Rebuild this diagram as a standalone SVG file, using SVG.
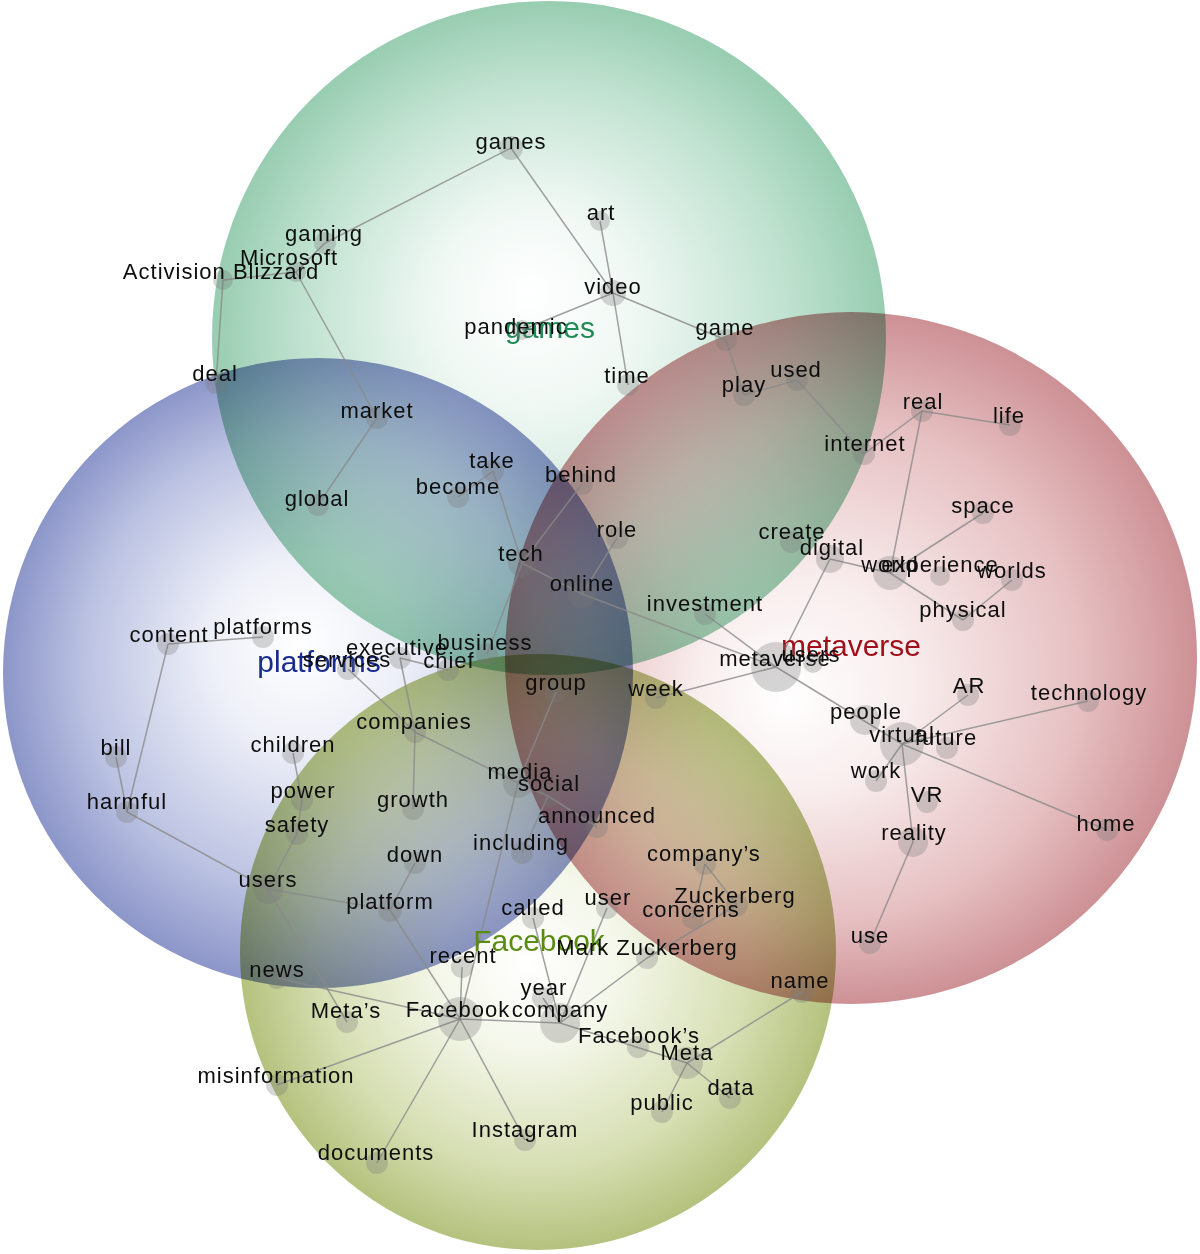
<svg xmlns="http://www.w3.org/2000/svg" width="1200" height="1254" viewBox="0 0 1200 1254">
<style>
.e{stroke:#8a8a8a;stroke-width:1.5;stroke-opacity:0.8;fill:none}
.n circle{fill:#777777;fill-opacity:0.3}
.n text{font-family:"Liberation Sans",Arial,sans-serif;font-size:22px;letter-spacing:1px;fill:#0d0d0d;text-anchor:middle}
.cat{font-family:"Liberation Sans",Arial,sans-serif;font-size:30px;text-anchor:middle}
.blob{mix-blend-mode:multiply}
</style>
<defs>
<radialGradient id="gG" cx="0.5" cy="0.5" r="0.5" fx="0.47" fy="0.43">
<stop offset="0" stop-color="#ffffff"/><stop offset="0.3" stop-color="#f0f8f4"/><stop offset="0.72" stop-color="#c0e2d0"/><stop offset="1" stop-color="#98cdb1"/>
</radialGradient>
<radialGradient id="gB" cx="0.5" cy="0.5" r="0.5" fx="0.47" fy="0.45">
<stop offset="0" stop-color="#ffffff"/><stop offset="0.3" stop-color="#eef0f8"/><stop offset="0.72" stop-color="#bcc3e2"/><stop offset="1" stop-color="#8c96c9"/>
</radialGradient>
<radialGradient id="gR" cx="0.5" cy="0.5" r="0.5" fx="0.4" fy="0.56">
<stop offset="0" stop-color="#ffffff"/><stop offset="0.3" stop-color="#f9eeee"/><stop offset="0.72" stop-color="#e6c0c2"/><stop offset="1" stop-color="#cd9195"/>
</radialGradient>
<radialGradient id="gY" cx="0.5" cy="0.5" r="0.5" fx="0.48" fy="0.52">
<stop offset="0" stop-color="#ffffff"/><stop offset="0.3" stop-color="#f4f7ea"/><stop offset="0.72" stop-color="#d6deb2"/><stop offset="1" stop-color="#b4c27e"/>
</radialGradient>
</defs>
<rect width="1200" height="1254" fill="#ffffff"/>
<g id="areas">
<circle id="area-games" class="blob" cx="549" cy="338" r="337" fill="url(#gG)"/>
<circle id="area-platforms" class="blob" cx="318" cy="673" r="315" fill="url(#gB)"/>
<circle id="area-metaverse" class="blob" cx="851" cy="658" r="346" fill="url(#gR)"/>
<circle id="area-facebook" class="blob" cx="538" cy="952" r="298" fill="url(#gY)"/>
</g>
<g id="connectors">
<line class="e" x1="511" y1="148" x2="325" y2="243"/>
<line class="e" x1="511" y1="148" x2="613" y2="293"/>
<line class="e" x1="325" y1="243" x2="296" y2="272"/>
<line class="e" x1="296" y1="272" x2="223" y2="280"/>
<line class="e" x1="223" y1="280" x2="216" y2="383"/>
<line class="e" x1="296" y1="272" x2="377" y2="418"/>
<line class="e" x1="377" y1="418" x2="318" y2="505"/>
<line class="e" x1="600" y1="221" x2="613" y2="293"/>
<line class="e" x1="613" y1="293" x2="522" y2="330"/>
<line class="e" x1="613" y1="293" x2="726" y2="340"/>
<line class="e" x1="613" y1="293" x2="628" y2="385"/>
<line class="e" x1="726" y1="340" x2="744" y2="395"/>
<line class="e" x1="744" y1="395" x2="797" y2="380"/>
<line class="e" x1="797" y1="380" x2="864" y2="454"/>
<line class="e" x1="864" y1="454" x2="922" y2="411"/>
<line class="e" x1="922" y1="411" x2="1010" y2="425"/>
<line class="e" x1="922" y1="411" x2="890" y2="573"/>
<line class="e" x1="890" y1="573" x2="983" y2="513"/>
<line class="e" x1="890" y1="573" x2="963" y2="620"/>
<line class="e" x1="963" y1="620" x2="1012" y2="580"/>
<line class="e" x1="830" y1="559" x2="890" y2="573"/>
<line class="e" x1="830" y1="559" x2="776" y2="667"/>
<line class="e" x1="493" y1="471" x2="458" y2="497"/>
<line class="e" x1="493" y1="471" x2="522" y2="563"/>
<line class="e" x1="582" y1="484" x2="522" y2="563"/>
<line class="e" x1="522" y1="563" x2="487" y2="654"/>
<line class="e" x1="522" y1="563" x2="582" y2="594"/>
<line class="e" x1="617" y1="538" x2="582" y2="594"/>
<line class="e" x1="582" y1="594" x2="776" y2="667"/>
<line class="e" x1="705" y1="614" x2="776" y2="667"/>
<line class="e" x1="656" y1="698" x2="776" y2="667"/>
<line class="e" x1="776" y1="667" x2="902" y2="744"/>
<line class="e" x1="902" y1="744" x2="968" y2="695"/>
<line class="e" x1="902" y1="744" x2="1088" y2="701"/>
<line class="e" x1="902" y1="744" x2="876" y2="781"/>
<line class="e" x1="902" y1="744" x2="913" y2="842"/>
<line class="e" x1="902" y1="744" x2="1107" y2="830"/>
<line class="e" x1="913" y1="842" x2="870" y2="943"/>
<line class="e" x1="168" y1="644" x2="263" y2="637"/>
<line class="e" x1="168" y1="644" x2="127" y2="812"/>
<line class="e" x1="116" y1="757" x2="127" y2="812"/>
<line class="e" x1="127" y1="812" x2="268" y2="889"/>
<line class="e" x1="293" y1="753" x2="302" y2="800"/>
<line class="e" x1="302" y1="800" x2="297" y2="834"/>
<line class="e" x1="297" y1="834" x2="268" y2="889"/>
<line class="e" x1="268" y1="889" x2="390" y2="910"/>
<line class="e" x1="400" y1="658" x2="448" y2="670"/>
<line class="e" x1="400" y1="658" x2="415" y2="732"/>
<line class="e" x1="348" y1="669" x2="415" y2="732"/>
<line class="e" x1="415" y1="732" x2="413" y2="809"/>
<line class="e" x1="415" y1="732" x2="518" y2="783"/>
<line class="e" x1="556" y1="692" x2="518" y2="783"/>
<line class="e" x1="518" y1="783" x2="548" y2="796"/>
<line class="e" x1="548" y1="796" x2="597" y2="827"/>
<line class="e" x1="522" y1="853" x2="548" y2="796"/>
<line class="e" x1="415" y1="863" x2="390" y2="910"/>
<line class="e" x1="390" y1="910" x2="460" y2="1019"/>
<line class="e" x1="518" y1="783" x2="460" y2="1019"/>
<line class="e" x1="268" y1="889" x2="347" y2="1022"/>
<line class="e" x1="277" y1="978" x2="460" y2="1019"/>
<line class="e" x1="462" y1="967" x2="460" y2="1019"/>
<line class="e" x1="277" y1="1085" x2="460" y2="1019"/>
<line class="e" x1="377" y1="1163" x2="460" y2="1019"/>
<line class="e" x1="525" y1="1140" x2="460" y2="1019"/>
<line class="e" x1="460" y1="1019" x2="560" y2="1023"/>
<line class="e" x1="533" y1="918" x2="560" y2="1023"/>
<line class="e" x1="607" y1="908" x2="560" y2="1023"/>
<line class="e" x1="543" y1="998" x2="560" y2="1023"/>
<line class="e" x1="647" y1="958" x2="560" y2="1023"/>
<line class="e" x1="560" y1="1023" x2="687" y2="1063"/>
<line class="e" x1="687" y1="1063" x2="802" y2="992"/>
<line class="e" x1="687" y1="1063" x2="730" y2="1098"/>
<line class="e" x1="687" y1="1063" x2="662" y2="1112"/>
<line class="e" x1="647" y1="958" x2="737" y2="905"/>
<line class="e" x1="705" y1="864" x2="693" y2="918"/>
<line class="e" x1="705" y1="864" x2="737" y2="905"/>
</g>
<g id="category-labels">
<text class="cat" x="550" y="338" fill="#1f8c55">games</text>
<text class="cat" x="319" y="672" fill="#1a2b8f">platforms</text>
<text class="cat" x="851" y="656" fill="#a0101c">metaverse</text>
<text class="cat" x="539" y="951" fill="#5a8c12">Facebook</text>
</g>
<g id="nodes">
<g id="n-games" class="n"><circle cx="511" cy="148" r="12"/><text x="511" y="149">games</text></g>
<g id="n-art" class="n"><circle cx="600" cy="221" r="10"/><text x="601" y="220">art</text></g>
<g id="n-gaming" class="n"><circle cx="325" cy="243" r="11"/><text x="324" y="241">gaming</text></g>
<g id="n-microsoft" class="n"><circle cx="296" cy="272" r="10"/><text x="289" y="265">Microsoft</text></g>
<g id="n-activision" class="n"><circle cx="223" cy="280" r="10"/><text x="221" y="279">Activision Blizzard</text></g>
<g id="n-deal" class="n"><circle cx="216" cy="383" r="11"/><text x="215" y="381">deal</text></g>
<g id="n-market" class="n"><circle cx="377" cy="418" r="11"/><text x="377" y="418">market</text></g>
<g id="n-global" class="n"><circle cx="318" cy="505" r="11"/><text x="317" y="506">global</text></g>
<g id="n-video" class="n"><circle cx="613" cy="293" r="13"/><text x="613" y="294">video</text></g>
<g id="n-pandemic" class="n"><circle cx="522" cy="330" r="10"/><text x="516" y="334">pandemic</text></g>
<g id="n-game" class="n"><circle cx="726" cy="340" r="11"/><text x="725" y="335">game</text></g>
<g id="n-time" class="n"><circle cx="628" cy="385" r="11"/><text x="627" y="383">time</text></g>
<g id="n-play" class="n"><circle cx="744" cy="395" r="11"/><text x="744" y="392">play</text></g>
<g id="n-used" class="n"><circle cx="797" cy="380" r="11"/><text x="796" y="377">used</text></g>
<g id="n-internet" class="n"><circle cx="864" cy="454" r="11"/><text x="865" y="451">internet</text></g>
<g id="n-real" class="n"><circle cx="922" cy="411" r="11"/><text x="923" y="409">real</text></g>
<g id="n-life" class="n"><circle cx="1010" cy="425" r="11"/><text x="1009" y="423">life</text></g>
<g id="n-space" class="n"><circle cx="983" cy="513" r="11"/><text x="983" y="513">space</text></g>
<g id="n-create" class="n"><circle cx="791" cy="542" r="11"/><text x="792" y="539">create</text></g>
<g id="n-digital" class="n"><circle cx="830" cy="559" r="14"/><text x="832" y="555">digital</text></g>
<g id="n-world" class="n"><circle cx="890" cy="573" r="17"/><text x="890" y="572">world</text></g>
<g id="n-experience" class="n"><circle cx="940" cy="576" r="10"/><text x="940" y="572">experience</text></g>
<g id="n-worlds" class="n"><circle cx="1012" cy="580" r="11"/><text x="1012" y="578">worlds</text></g>
<g id="n-physical" class="n"><circle cx="963" cy="620" r="11"/><text x="963" y="617">physical</text></g>
<g id="n-investment" class="n"><circle cx="705" cy="614" r="11"/><text x="705" y="611">investment</text></g>
<g id="n-metaverse" class="n"><circle cx="776" cy="667" r="25"/><text x="775" y="666">metaverse</text></g>
<g id="n-users-m" class="n"><circle cx="813" cy="663" r="10"/><text x="811" y="662">users</text></g>
<g id="n-week" class="n"><circle cx="656" cy="698" r="11"/><text x="656" y="696">week</text></g>
<g id="n-role" class="n"><circle cx="617" cy="538" r="11"/><text x="617" y="537">role</text></g>
<g id="n-behind" class="n"><circle cx="582" cy="484" r="11"/><text x="581" y="482">behind</text></g>
<g id="n-take" class="n"><circle cx="493" cy="471" r="11"/><text x="492" y="468">take</text></g>
<g id="n-become" class="n"><circle cx="458" cy="497" r="11"/><text x="458" y="494">become</text></g>
<g id="n-tech" class="n"><circle cx="522" cy="563" r="14"/><text x="521" y="561">tech</text></g>
<g id="n-online" class="n"><circle cx="582" cy="594" r="14"/><text x="582" y="591">online</text></g>
<g id="n-ar" class="n"><circle cx="968" cy="695" r="11"/><text x="969" y="693">AR</text></g>
<g id="n-technology" class="n"><circle cx="1088" cy="701" r="11"/><text x="1089" y="700">technology</text></g>
<g id="n-people" class="n"><circle cx="865" cy="720" r="15"/><text x="866" y="719">people</text></g>
<g id="n-virtual" class="n"><circle cx="902" cy="744" r="22"/><text x="902" y="742">virtual</text></g>
<g id="n-future" class="n"><circle cx="947" cy="748" r="11"/><text x="946" y="745">future</text></g>
<g id="n-work" class="n"><circle cx="876" cy="781" r="11"/><text x="876" y="778">work</text></g>
<g id="n-vr" class="n"><circle cx="927" cy="802" r="11"/><text x="927" y="802">VR</text></g>
<g id="n-reality" class="n"><circle cx="913" cy="842" r="15"/><text x="914" y="840">reality</text></g>
<g id="n-home" class="n"><circle cx="1107" cy="830" r="11"/><text x="1106" y="831">home</text></g>
<g id="n-use" class="n"><circle cx="870" cy="943" r="11"/><text x="870" y="943">use</text></g>
<g id="n-content" class="n"><circle cx="168" cy="644" r="11"/><text x="169" y="642">content</text></g>
<g id="n-platforms" class="n"><circle cx="263" cy="637" r="11"/><text x="263" y="634">platforms</text></g>
<g id="n-services" class="n"><circle cx="348" cy="669" r="11"/><text x="347" y="667">services</text></g>
<g id="n-executive" class="n"><circle cx="400" cy="658" r="11"/><text x="397" y="655">executive</text></g>
<g id="n-business" class="n"><circle cx="487" cy="654" r="11"/><text x="485" y="650">business</text></g>
<g id="n-chief" class="n"><circle cx="448" cy="670" r="11"/><text x="449" y="668">chief</text></g>
<g id="n-companies" class="n"><circle cx="415" cy="732" r="11"/><text x="414" y="729">companies</text></g>
<g id="n-children" class="n"><circle cx="293" cy="753" r="11"/><text x="293" y="752">children</text></g>
<g id="n-bill" class="n"><circle cx="116" cy="757" r="11"/><text x="116" y="755">bill</text></g>
<g id="n-harmful" class="n"><circle cx="127" cy="812" r="11"/><text x="127" y="809">harmful</text></g>
<g id="n-power" class="n"><circle cx="302" cy="800" r="11"/><text x="303" y="798">power</text></g>
<g id="n-growth" class="n"><circle cx="413" cy="809" r="11"/><text x="413" y="807">growth</text></g>
<g id="n-safety" class="n"><circle cx="297" cy="834" r="11"/><text x="297" y="832">safety</text></g>
<g id="n-down" class="n"><circle cx="415" cy="863" r="11"/><text x="415" y="862">down</text></g>
<g id="n-users" class="n"><circle cx="268" cy="889" r="15"/><text x="268" y="887">users</text></g>
<g id="n-platform" class="n"><circle cx="390" cy="910" r="12"/><text x="390" y="909">platform</text></g>
<g id="n-media" class="n"><circle cx="518" cy="783" r="15"/><text x="520" y="779">media</text></g>
<g id="n-social" class="n"><circle cx="548" cy="796" r="12"/><text x="549" y="791">social</text></g>
<g id="n-group" class="n"><circle cx="556" cy="692" r="11"/><text x="556" y="690">group</text></g>
<g id="n-announced" class="n"><circle cx="597" cy="827" r="11"/><text x="597" y="823">announced</text></g>
<g id="n-including" class="n"><circle cx="522" cy="853" r="11"/><text x="521" y="850">including</text></g>
<g id="n-companys" class="n"><circle cx="705" cy="864" r="11"/><text x="704" y="861">company’s</text></g>
<g id="n-zuckerberg" class="n"><circle cx="737" cy="905" r="11"/><text x="735" y="903">Zuckerberg</text></g>
<g id="n-concerns" class="n"><circle cx="693" cy="918" r="11"/><text x="691" y="917">concerns</text></g>
<g id="n-user" class="n"><circle cx="607" cy="908" r="11"/><text x="608" y="905">user</text></g>
<g id="n-called" class="n"><circle cx="533" cy="918" r="11"/><text x="533" y="915">called</text></g>
<g id="n-markz" class="n"><circle cx="647" cy="958" r="11"/><text x="647" y="955">Mark Zuckerberg</text></g>
<g id="n-recent" class="n"><circle cx="462" cy="967" r="11"/><text x="463" y="963">recent</text></g>
<g id="n-news" class="n"><circle cx="277" cy="978" r="11"/><text x="277" y="977">news</text></g>
<g id="n-year" class="n"><circle cx="543" cy="998" r="11"/><text x="544" y="995">year</text></g>
<g id="n-company" class="n"><circle cx="560" cy="1023" r="20"/><text x="560" y="1017">company</text></g>
<g id="n-metas" class="n"><circle cx="347" cy="1022" r="11"/><text x="346" y="1018">Meta’s</text></g>
<g id="n-facebook" class="n"><circle cx="460" cy="1019" r="22"/><text x="458" y="1017">Facebook</text></g>
<g id="n-facebooks" class="n"><circle cx="638" cy="1047" r="11"/><text x="639" y="1043">Facebook’s</text></g>
<g id="n-meta" class="n"><circle cx="687" cy="1063" r="16"/><text x="687" y="1060">Meta</text></g>
<g id="n-name" class="n"><circle cx="802" cy="992" r="11"/><text x="800" y="988">name</text></g>
<g id="n-data" class="n"><circle cx="730" cy="1098" r="11"/><text x="731" y="1095">data</text></g>
<g id="n-public" class="n"><circle cx="662" cy="1112" r="11"/><text x="662" y="1110">public</text></g>
<g id="n-misinformation" class="n"><circle cx="277" cy="1085" r="11"/><text x="276" y="1083">misinformation</text></g>
<g id="n-instagram" class="n"><circle cx="525" cy="1140" r="11"/><text x="525" y="1137">Instagram</text></g>
<g id="n-documents" class="n"><circle cx="377" cy="1163" r="11"/><text x="376" y="1160">documents</text></g>
</g>
</svg>
